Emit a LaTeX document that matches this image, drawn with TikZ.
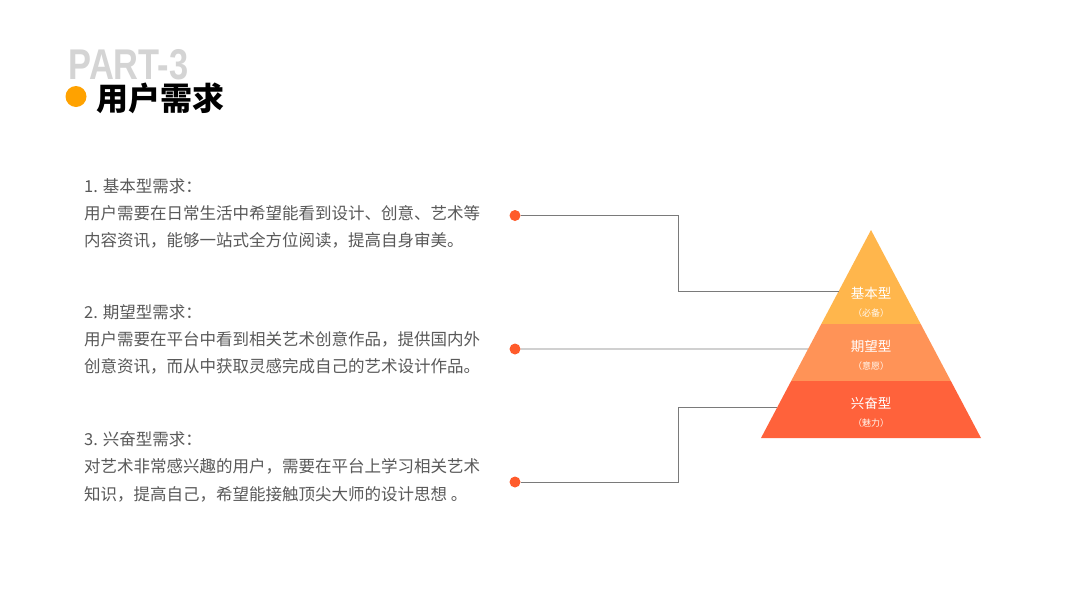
\documentclass[tikz,border=0pt]{standalone}
\usepackage{fontspec}
\setmainfont{Noto Sans CJK SC}
\newfontfamily\latinb{Liberation Sans}
\usetikzlibrary{calc}
\definecolor{txt}{HTML}{595959}
\definecolor{lc}{HTML}{7A7A7A}
\definecolor{dotc}{HTML}{FF5B2B}
\definecolor{tierA}{HTML}{FFB64C}
\definecolor{tierB}{HTML}{FF9357}
\definecolor{tierC}{HTML}{FF623B}
\definecolor{partgray}{HTML}{D4D4D4}
\definecolor{bullet}{HTML}{FFA200}
\tikzset{
  body/.style={anchor=west, inner sep=0pt, text=txt, font=\fontsize{16.5}{20}\selectfont},
  conn/.style={draw=lc, line width=0.9pt},
  dotn/.style={circle, fill=dotc, minimum size=11pt, inner sep=0pt},
  tiername/.style={text=white, font=\fontsize{13.5}{15}\selectfont, inner sep=0pt},
  tiersub/.style={text=white!92!tierA, font=\fontsize{9}{11}\selectfont, inner sep=0pt},
}
\begin{document}
\begin{tikzpicture}[x=1pt,y=-1pt]
\useasboundingbox[fill=white] (0,0) rectangle (1067,600);
% header
\node[inner sep=0pt, text=partgray, font=\latinb\fontsize{43}{45}\selectfont\bfseries, xscale=0.8] (part) at (128.5,64.5) {PART-3};
\node[circle, fill=bullet, minimum size=21pt, inner sep=0pt] (bul) at (76,96.5) {};
\node[inner sep=0pt, anchor=west, text=black, font=\fontsize{32}{34}\selectfont\bfseries] (title) at (96,98) {用户需求};
% text blocks
\node[body] (a1) at (84,186) {1. 基本型需求：};
\node[body] (a2) at (84,213) {用户需要在日常生活中希望能看到设计、创意、艺术等};
\node[body] (a3) at (84,240) {内容资讯，能够一站式全方位阅读，提高自身审美。};
\node[body] (b1) at (84,312) {2. 期望型需求：};
\node[body] (b2) at (84,339) {用户需要在平台中看到相关艺术创意作品，提供国内外};
\node[body] (b3) at (84,366) {创意资讯，而从中获取灵感完成自己的艺术设计作品。};
\node[body] (c1) at (84,439) {3. 兴奋型需求：};
\node[body] (c2) at (84,466) {对艺术非常感兴趣的用户，需要在平台上学习相关艺术};
\node[body] (c3) at (84,494) {知识，提高自己，希望能接触顶尖大师的设计思想 。};
% pyramid
\coordinate (apex) at (871,230);
\coordinate (bl) at (761,438);
\coordinate (br) at (981,438);
\coordinate (l1) at ($(apex)!0.4519!(bl)$);
\coordinate (r1) at ($(apex)!0.4519!(br)$);
\coordinate (l2) at ($(apex)!0.7260!(bl)$);
\coordinate (r2) at ($(apex)!0.7260!(br)$);
\fill[tierA] (apex) -- (r1) -- (l1) -- cycle;
\fill[tierB] (l1) -- (r1) -- (r2) -- (l2) -- cycle;
\fill[tierC] (l2) -- (r2) -- (br) -- (bl) -- cycle;
\node[tiername] (n1) at (871,293.5) {基本型};
\node[tiersub] (s1) at (871,313) {（必备）};
\node[tiername] (n2) at (871,346.5) {期望型};
\node[tiersub] (s2) at (871,366.5) {（意愿）};
\node[tiername] (n3) at (871,403.5) {兴奋型};
\node[tiersub] (s3) at (871,423) {（魅力）};
% connectors
\coordinate (e1) at ($(apex)!0.2933!(bl)$);
\coordinate (e2) at ($(apex)!0.5721!(bl)$);
\coordinate (e3) at ($(apex)!0.8510!(bl)$);
\coordinate (k1) at (678,215.5);
\coordinate (k3) at (678,482);
\node[dotn] (d1) at (515,215.5) {};
\node[dotn] (d2) at (515,349) {};
\node[dotn] (d3) at (515,482) {};
\draw[conn] (d1) -- (k1) |- (e1);
\draw[conn] (d2) -- (e2);
\draw[conn] (d3) -- (k3) |- (e3);
\end{tikzpicture}
\end{document}
